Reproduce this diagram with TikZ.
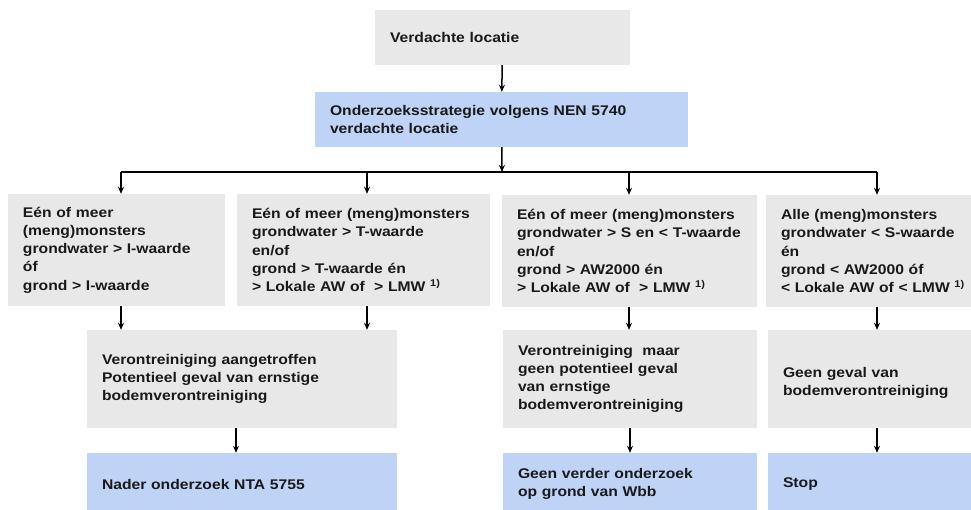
\documentclass[tikz,border=0pt]{standalone}
\usepackage{fontspec}
\setmainfont{Liberation Sans}[FakeStretch=1.12]
\usetikzlibrary{arrows.meta}
\definecolor{boxgrey}{RGB}{232,232,232}
\definecolor{boxblue}{RGB}{190,211,246}
\begin{document}
\begin{tikzpicture}[x=1pt,y=-1pt,
  font=\fontsize{14}{18.2}\selectfont\bfseries,
  greybox/.style={fill=boxgrey,text=black!90,inner xsep=15pt,inner ysep=0pt,align=left},
  bluebox/.style={greybox,fill=boxblue},
  arr/.style={line width=1.5pt,-{Stealth[length=7pt,width=6pt]}}]
\useasboundingbox (0,0) rectangle (971,509);
\node[greybox,text width=225pt,minimum height=55pt] (loc) at (502.5,37.5) {Verdachte locatie};
\node[bluebox,text width=343pt,minimum height=55pt] (strat) at (501.5,119.5) {Onderzoeksstrategie volgens NEN 5740\\verdachte locatie};

\node[greybox,text width=187pt,minimum height=112pt] (r1a) at (116.5,250) {Eén of meer\\(meng)monsters\\grondwater > I-waarde\\óf\\grond > I-waarde};
\node[greybox,text width=223pt,minimum height=112pt] (r1b) at (363.5,250) {Eén of meer (meng)monsters\\grondwater > T-waarde\\en/of\\grond > T-waarde én\\> Lokale AW of~ > LMW \textsuperscript{1)}};
\node[greybox,text width=225pt,minimum height=112pt] (r1c) at (629.5,251) {Eén of meer (meng)monsters\\grondwater > S en < T-waarde\\en/of\\grond > AW2000 én\\> Lokale AW of~ > LMW \textsuperscript{1)}};
\node[greybox,text width=195pt,minimum height=112pt] (r1d) at (878.5,251) {Alle (meng)monsters\\grondwater < S-waarde\\én\\grond < AW2000 óf\\< Lokale AW of < LMW \textsuperscript{1)}};

\node[greybox,text width=280pt,minimum height=98pt] (r2a) at (242,379) {Verontreiniging aangetroffen\\Potentieel geval van ernstige\\bodemverontreiniging};
\node[greybox,text width=224pt,minimum height=98pt] (r2b) at (630,379) {Verontreiniging~ maar\\geen potentieel geval\\van ernstige\\bodemverontreiniging};
\node[greybox,text width=193pt,minimum height=98pt] (r2c) at (879.5,379) {\mbox{}\\Geen geval van\\bodemverontreiniging};

\node[bluebox,text width=280pt,minimum height=62pt] (r3a) at (242,484) {Nader onderzoek NTA 5755};
\node[bluebox,text width=224pt,minimum height=62pt] (r3b) at (630,484) {Geen verder onderzoek\\op grond van Wbb};
\node[bluebox,text width=193pt,minimum height=62pt] (r3c) at (879.5,484) {Stop};

\coordinate (ja) at (121,172);
\coordinate (jb) at (367,172);
\coordinate (jm) at (502,172);
\coordinate (jc) at (629,172);
\coordinate (jd) at (877,172);

\draw[arr] (loc) -- (strat);
\draw[arr] (strat) -- (jm);
\draw[line width=1.5pt] (ja) -- (jd);
\foreach \j/\b in {ja/r1a,jb/r1b,jc/r1c,jd/r1d}
  \draw[arr] (\j) -- (\j |- \b.north);

\draw[arr] (r1a.south -| ja) -- (r2a.north -| ja);
\draw[arr] (r1b.south -| jb) -- (r2a.north -| jb);
\draw[arr] (r1c.south -| jc) -- (r2b.north -| jc);
\draw[arr] (r1d.south -| jd) -- (r2c.north -| jd);

\draw[arr] ([xshift=-6pt]r2a.south) -- ([xshift=-6pt]r3a.north);
\draw[arr] (r2b) -- (r3b);
\draw[arr] (r2c.south -| jd) -- (r3c.north -| jd);
\end{tikzpicture}
\end{document}
